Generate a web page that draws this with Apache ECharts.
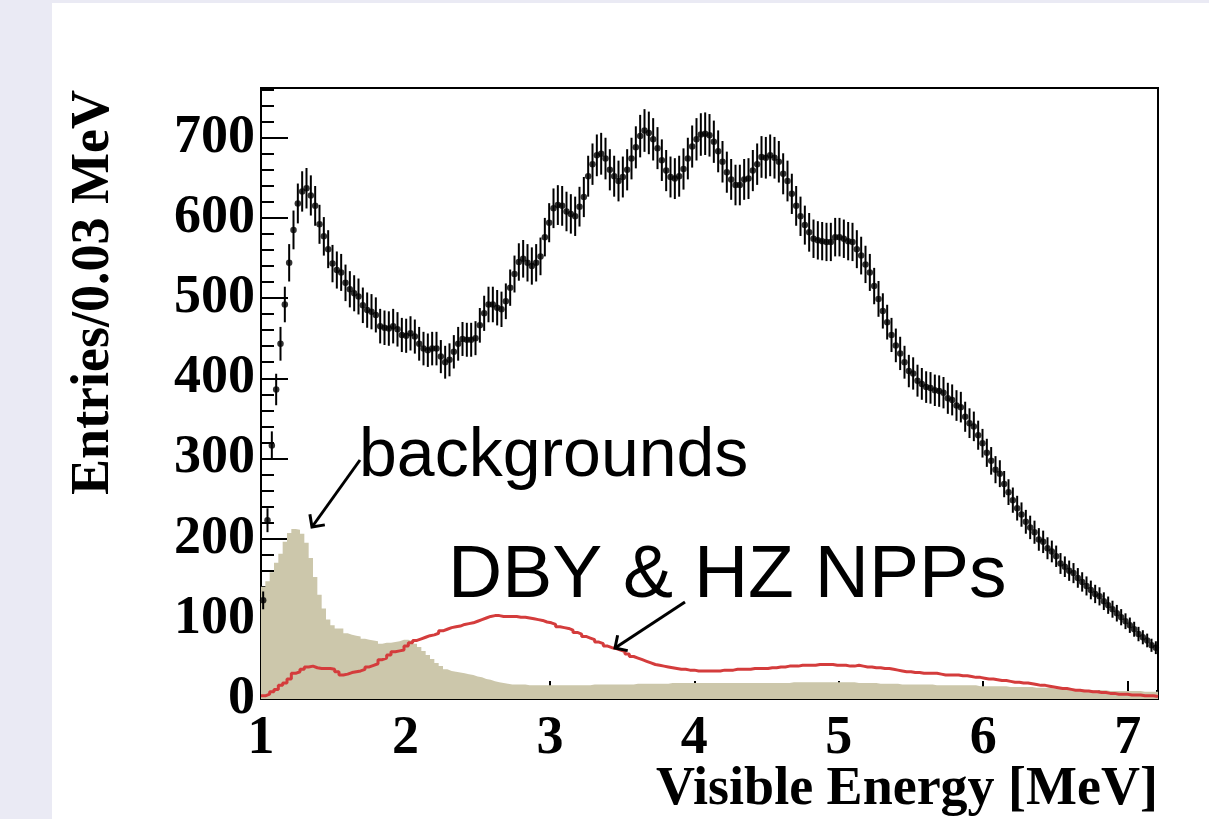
<!DOCTYPE html>
<html>
<head>
<meta charset="utf-8">
<title>Visible energy spectrum</title>
<script src="https://cdn.jsdelivr.net/npm/echarts@6/dist/echarts.min.js"></script>
<style>
  html, body { margin: 0; padding: 0; background: #eaeaf4; }
  #panel { position: absolute; left: 52px; top: 3px; width: 1157px; height: 816px; background: #fff; }
  #main { position: absolute; left: 0; top: 0; width: 1209px; height: 819px; }
</style>
</head>
<body>
<div id="panel"></div>
<div id="main"></div>
<script>
// histogram binning
const E_MIN = 1.0
const BIN_WIDTH = 0.03

// measured entries per 0.03 MeV bin (data points)
const counts = [
  123, 223, 316, 386, 443, 492, 544, 585, 618, 633,
  637, 628, 615, 592, 577, 561, 543, 535, 532, 519,
  511, 506, 502, 491, 485, 483, 479, 465, 463, 462,
  465, 461, 454, 453, 456, 452, 443, 437, 435, 437,
  437, 427, 420, 423, 433, 443, 449, 448, 448, 450,
  466, 481, 492, 492, 488, 486, 496, 513, 530, 545,
  549, 544, 540, 544, 552, 576, 594, 612, 616, 615,
  608, 605, 602, 614, 626, 652, 667, 678, 680, 674,
  660, 652, 646, 651, 660, 674, 688, 702, 709, 706,
  698, 687, 672, 659, 651, 649, 652, 661, 674, 689,
  698, 704, 705, 703, 695, 683, 670, 657, 648, 641,
  641, 648, 649, 659, 667, 676, 675, 678, 675, 670,
  655, 646, 630, 615, 602, 591, 582, 574, 572, 571,
  570, 570, 576, 576, 574, 571, 570, 561, 553, 542,
  532, 515, 499, 484, 470, 454, 441, 431, 420, 409,
  406, 397, 393, 389, 388, 385, 384, 382, 375, 373,
  366, 364, 352, 344, 340, 329, 319, 307, 297, 286,
  281, 268, 258, 248, 238, 230, 221, 214, 208, 199,
  196, 188, 184, 178, 169, 165, 160, 157, 151, 146,
  141, 136, 131, 128, 122, 117, 112, 107, 102, 97,
  92, 87, 81, 77, 73, 67, 64,
]

// backgrounds (filled histogram)
const background = [
  140, 147, 158, 170, 181, 196, 207, 212, 211, 206,
  195, 176, 152, 130, 113, 99, 92, 88, 88, 82,
  80, 79, 78, 75, 74, 73, 72, 69, 70, 70,
  71, 72, 74, 74, 72, 69, 65, 60, 55, 50,
  45, 41, 37, 35, 34, 33, 32, 31, 30, 28,
  27, 25, 24, 22, 21, 20, 19, 18, 18, 18,
  18, 17, 17, 17, 17, 17, 17, 17, 17, 17,
  17, 17, 17, 17, 17, 17, 18, 18, 18, 18,
  18, 18, 18, 18, 18, 18, 19, 19, 19, 19,
  19, 19, 19, 19, 20, 20, 20, 20, 20, 20,
  20, 20, 20, 20, 20, 20, 20, 20, 20, 20,
  20, 20, 20, 20, 20, 20, 20, 20, 20, 20,
  20, 20, 21, 21, 21, 21, 21, 21, 21, 21,
  21, 21, 21, 21, 21, 21, 21, 20, 20, 20,
  20, 20, 19, 19, 19, 19, 19, 18, 18, 18,
  18, 18, 18, 18, 18, 17, 17, 17, 17, 17,
  17, 17, 17, 17, 17, 16, 16, 16, 16, 16,
  16, 16, 15, 15, 15, 15, 15, 15, 14, 14,
  14, 14, 13, 13, 13, 13, 12, 12, 12, 12,
  11, 11, 11, 11, 11, 10, 10, 10, 10, 10,
  10, 10, 10, 9, 9, 9, 9,
]

// DBY & HZ NPPs prediction (red histogram)
const nppSignal = [
  4, 6, 9, 12, 17, 20, 25, 32, 34, 37,
  40, 41, 39, 38, 38, 38, 37, 34, 30, 31,
  33, 34, 35, 37, 40, 42, 44, 49, 51, 55,
  59, 60, 61, 66, 70, 73, 75, 77, 79, 80,
  82, 85, 87, 89, 90, 91, 93, 94, 95, 97,
  99, 101, 103, 104, 104, 103, 103, 103, 103, 102,
  102, 101, 100, 99, 98, 96, 95, 93, 90, 89,
  88, 86, 83, 81, 78, 76, 74, 71, 69, 66,
  64, 63, 61, 59, 56, 53, 51, 49, 47, 45,
  43, 42, 41, 40, 39, 38, 37, 37, 36, 36,
  35, 35, 35, 35, 35, 35, 36, 36, 36, 37,
  37, 37, 37, 38, 38, 38, 38, 39, 39, 40,
  40, 41, 41, 41, 42, 42, 42, 42, 43, 43,
  43, 43, 42, 42, 42, 41, 41, 42, 41, 40,
  40, 39, 39, 38, 38, 37, 36, 35, 34, 34,
  33, 33, 32, 32, 32, 32, 31, 30, 30, 30,
  30, 29, 29, 28, 27, 27, 26, 25, 25, 24,
  23, 23, 22, 21, 21, 20, 20, 19, 18, 17,
  17, 16, 15, 14, 13, 13, 12, 11, 11, 10,
  10, 9, 9, 8, 8, 7, 7, 6, 6, 6,
  5, 5, 5, 4, 4, 4, 3,
]

const E_MAX = +(E_MIN + BIN_WIDTH * counts.length).toFixed(2)
const binLefts = counts.map((_, i) => +(E_MIN + BIN_WIDTH * i).toFixed(3))
const binCenters = counts.map((_, i) => +(E_MIN + BIN_WIDTH * (i + 0.5)).toFixed(3))

// histogram outline: value held from the left edge of each bin to the next edge
function stepData(values) {
  const d = values.map((v, i) => [binLefts[i], v])
  d.push([E_MAX, values[values.length - 1]])
  return d
}

const serifBold = 'Liberation Serif'
const tickStyle = { color: '#000', width: 2 }

const chart = echarts.init(document.getElementById('main'), null, { renderer: 'canvas' })

// arrow helper (open V head)
function arrow(x1, y1, x2, y2) {
  const ang = Math.atan2(y1 - y2, x1 - x2)
  const len = 13
  const a1 = ang + Math.PI / 4
  const a2 = ang - Math.PI / 4
  return [
    { type: 'line', shape: { x1, y1, x2, y2 }, style: { stroke: '#000', lineWidth: 3 }, z: 100 },
    {
      type: 'polyline',
      shape: { points: [[x2 + len * Math.cos(a1), y2 + len * Math.sin(a1)], [x2, y2], [x2 + len * Math.cos(a2), y2 + len * Math.sin(a2)]] },
      style: { stroke: '#000', lineWidth: 3, fill: null },
      z: 100,
    },
  ]
}

const option = {
  animation: false,
  backgroundColor: 'transparent',
  grid: {
    left: 261,
    top: 88,
    right: 51,
    bottom: 120,
    show: true,
    borderColor: '#000',
    borderWidth: 2,
    backgroundColor: 'transparent',
    containLabel: false,
    outerBoundsMode: 'none',
  },
  xAxis: [
    {
      type: 'value',
      min: E_MIN,
      max: E_MAX,
      interval: 1,
      position: 'bottom',
      axisLine: { show: true, onZero: false, lineStyle: tickStyle },
      axisTick: { inside: true, length: 18, lineStyle: tickStyle },
      axisLabel: {
        fontFamily: serifBold,
        fontWeight: 'bold',
        fontSize: 54,
        color: '#000',
        margin: 13,
        formatter: (v) => (Math.abs(v - Math.round(v)) < 1e-6 ? String(Math.round(v)) : ''),
      },
      splitLine: { show: false },
    },
    {
      // minor ticks
      type: 'value',
      min: E_MIN,
      max: E_MAX,
      interval: 0.2,
      position: 'bottom',
      axisLine: { show: false, onZero: false },
      axisTick: { inside: true, length: 9, lineStyle: tickStyle },
      axisLabel: { show: false },
      splitLine: { show: false },
    },
  ],
  yAxis: [
    {
      type: 'value',
      min: 0,
      max: 762,
      interval: 100,
      position: 'left',
      axisLine: { show: true, onZero: false, lineStyle: tickStyle },
      axisTick: { inside: true, length: 27, lineStyle: tickStyle },
      axisLabel: {
        fontFamily: serifBold,
        fontWeight: 'bold',
        fontSize: 54,
        color: '#000',
        margin: 6,
        formatter: (v) => (v % 100 === 0 ? String(v) : ''),
      },
      splitLine: { show: false },
    },
    {
      // minor ticks
      type: 'value',
      min: 0,
      max: 762,
      interval: 20,
      position: 'left',
      axisLine: { show: false, onZero: false },
      axisTick: { inside: true, length: 13, lineStyle: tickStyle },
      axisLabel: { show: false },
      splitLine: { show: false },
    },
  ],
  series: [
    {
      name: 'backgrounds',
      type: 'line',
      step: 'end',
      data: stepData(background),
      showSymbol: false,
      lineStyle: { width: 0, color: '#ccc7ab' },
      areaStyle: { color: '#ccc7ab', opacity: 1 },
      z: 1,
    },
    {
      name: 'DBY & HZ NPPs',
      type: 'line',
      step: 'end',
      data: stepData(nppSignal),
      showSymbol: false,
      lineStyle: { width: 3, color: '#d43c3c' },
      z: 2,
    },
    {
      name: 'error',
      type: 'custom',
      data: counts.map((v, i) => [binCenters[i], v - Math.sqrt(v), v + Math.sqrt(v)]),
      encode: { x: 0, y: [1, 2] },
      renderItem: (params, api) => {
        const lo = api.coord([api.value(0), api.value(1)])
        const hi = api.coord([api.value(0), api.value(2)])
        return {
          type: 'line',
          shape: { x1: lo[0], y1: lo[1], x2: hi[0], y2: hi[1] },
          style: { stroke: '#000', lineWidth: 2 },
        }
      },
      z: 3,
    },
    {
      name: 'data',
      type: 'scatter',
      data: counts.map((v, i) => [binCenters[i], v]),
      symbol: 'circle',
      symbolSize: 6.5,
      itemStyle: { color: '#000' },
      z: 4,
    },
  ],
  graphic: [
    {
      type: 'text',
      x: 94,
      y: 90,
      rotation: Math.PI / 2,
      style: {
        text: 'Entries/0.03 MeV',
        font: 'bold 54px "Liberation Serif"',
        fill: '#000',
        textAlign: 'right',
        textVerticalAlign: 'middle',
        align: 'right',
        verticalAlign: 'middle',
      },
    },
    {
      type: 'text',
      x: 1158,
      y: 790,
      style: {
        text: 'Visible Energy [MeV]',
        font: 'bold 54px "Liberation Serif"',
        fill: '#000',
        textAlign: 'right',
        textVerticalAlign: 'middle',
        align: 'right',
        verticalAlign: 'middle',
      },
    },
    {
      type: 'text',
      x: 359,
      y: 457,
      style: {
        text: 'backgrounds',
        font: '68px "Liberation Sans"',
        fill: '#000',
        textAlign: 'left',
        textVerticalAlign: 'middle',
        align: 'left',
        verticalAlign: 'middle',
      },
      z: 100,
    },
    {
      type: 'text',
      x: 448,
      y: 576,
      style: {
        text: 'DBY & HZ NPPs',
        font: '75px "Liberation Sans"',
        fill: '#000',
        textAlign: 'left',
        textVerticalAlign: 'middle',
        align: 'left',
        verticalAlign: 'middle',
      },
      z: 100,
    },
    ...arrow(360, 460, 312, 527),
    ...arrow(685, 602, 615, 648),
  ],
}

chart.setOption(option)
</script>
</body>
</html>
